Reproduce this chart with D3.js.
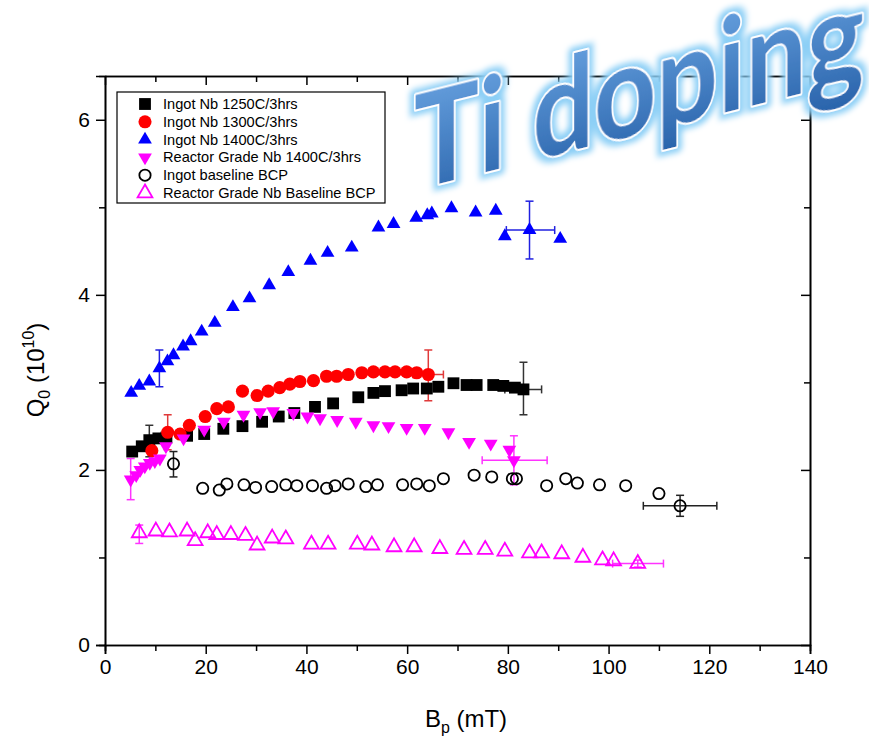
<!DOCTYPE html>
<html><head><meta charset="utf-8">
<script src="https://cdn.jsdelivr.net/npm/d3@7"></script>
<style>body{margin:0;background:#fff;} svg{display:block;}</style>
</head><body>
<svg id="c" width="869" height="742"></svg>
<script>
// ---- data (B_p in mT, Q0 in 1e10) ----
const seriesNames = ["Ingot Nb 1250C/3hrs","Ingot Nb 1300C/3hrs","Ingot Nb 1400C/3hrs","Reactor Grade Nb 1400C/3hrs","Ingot baseline BCP","Reactor Grade Nb Baseline BCP"];
const ingot1250 = [[5.4,2.21],[7.3,2.27],[8.8,2.34],[10.6,2.36],[12.2,2.37],[16.3,2.39],[19.7,2.41],[23.5,2.47],[27.3,2.50],[31.2,2.55],[34.5,2.61],[37.6,2.65],[41.7,2.72],[45.3,2.76],[50.3,2.83],[53.3,2.88],[55.6,2.90],[58.9,2.91],[61.2,2.93],[63.9,2.93],[66.2,2.95],[69.2,2.99],[71.8,2.97],[73.8,2.97],[77.1,2.97],[79.1,2.96],[81.4,2.94],[83.1,2.92]];
const ingot1300 = [[9.3,2.22],[12.45,2.43],[14.9,2.41],[16.75,2.51],[19.9,2.61],[22.2,2.70],[24.5,2.72],[27.3,2.90],[30.2,2.85],[32.4,2.90],[34.7,2.94],[36.7,2.98],[38.7,3.01],[41.4,3.02],[44.0,3.07],[46.0,3.07],[48.3,3.09],[51.0,3.11],[53.3,3.12],[55.6,3.12],[57.6,3.12],[59.9,3.12],[61.9,3.11],[64.2,3.09]];
const ingot1400 = [[5.2,2.88],[6.8,2.96],[8.8,3.01],[10.8,3.16],[12.4,3.24],[13.6,3.31],[15.5,3.41],[17.0,3.47],[19.2,3.58],[21.8,3.68],[25.4,3.86],[28.7,3.96],[32.6,4.11],[36.4,4.26],[40.8,4.39],[44.2,4.48],[49.0,4.54],[54.3,4.77],[57.3,4.81],[61.8,4.88],[64.0,4.91],[64.9,4.93],[68.8,4.99],[73.6,4.94],[77.6,4.96],[79.4,4.67],[84.3,4.74],[90.4,4.64]];
const reactor1400 = [[5.1,1.89],[6.2,1.94],[7.0,2.00],[7.9,2.04],[8.9,2.08],[9.9,2.10],[10.9,2.13],[12.1,2.27],[15.6,2.36],[19.7,2.46],[23.6,2.55],[27.5,2.63],[30.8,2.66],[33.4,2.67],[37.4,2.65],[40.2,2.61],[42.7,2.59],[46.1,2.57],[49.8,2.55],[53.3,2.51],[56.3,2.50],[59.9,2.48],[63.5,2.48],[68.2,2.43],[72.3,2.32],[76.6,2.30],[80.3,2.23],[81.2,2.11]];
const ingotBCP = [[13.6,2.07],[19.4,1.79],[22.7,1.77],[24.2,1.84],[27.6,1.83],[29.9,1.80],[33.1,1.81],[35.9,1.83],[38.1,1.82],[41.2,1.82],[44.0,1.79],[45.7,1.82],[48.3,1.84],[51.8,1.81],[54.1,1.83],[59.1,1.83],[61.9,1.84],[64.4,1.82],[67.2,1.90],[73.3,1.94],[76.8,1.92],[80.9,1.90],[81.7,1.90],[87.7,1.82],[91.5,1.90],[93.8,1.85],[98.2,1.83],[103.4,1.82],[110.0,1.73],[114.2,1.59]];
const reactorBCP = [[6.8,1.28],[10.1,1.30],[12.8,1.29],[16.3,1.30],[17.9,1.19],[20.4,1.28],[22.2,1.26],[25.0,1.26],[27.9,1.25],[30.2,1.14],[33.2,1.22],[35.9,1.21],[41.0,1.15],[44.3,1.15],[50.1,1.15],[53.0,1.14],[57.4,1.12],[61.4,1.12],[66.5,1.10],[71.3,1.09],[75.5,1.09],[79.4,1.07],[84.3,1.05],[86.7,1.05],[90.7,1.04],[94.9,1.00],[98.8,0.97],[101.0,0.96],[105.8,0.93]];
// error bars: [series index, x, y, yLo, yHi, xLo, xHi]
const errorBars = [
  [0, 8.8, 2.34, 2.15, 2.51, null, null],
  [0, 83.1, 2.92, 2.63, 3.23, 79.4, 86.7],
  [1, 12.45, 2.43, 2.23, 2.63, null, null],
  [1, 64.2, 3.09, 2.79, 3.37, 61.2, 67.2],
  [2, 10.8, 3.16, 2.95, 3.37, null, null],
  [2, 84.3, 4.74, 4.41, 5.07, 79.7, 89.3],
  [3, 5.1, 1.89, 1.66, 2.13, null, null],
  [3, 81.2, 2.11, 1.83, 2.39, 74.9, 87.8],
  [4, 13.6, 2.07, 1.92, 2.21, null, null],
  [4, 114.2, 1.59, 1.47, 1.71, 106.9, 121.5],
  [5, 6.8, 1.28, 1.16, 1.37, null, null],
  [5, 105.8, 0.93, 0.89, 0.97, 100.8, 110.9]
];
const xTicks = [0,20,40,60,80,100,120,140];
const xMinor = [10,30,50,70,90,110,130];
const yTicks = [0,2,4,6];
const yMinor = [1,3,5];
const title = "Ti doping";

// ---- styling ----
const allData = [ingot1250, ingot1300, ingot1400, reactor1400, ingotBCP, reactorBCP];
const styles = [
  {type:d3.symbolSquare, size:140, fill:"#000", stroke:"none", rot:0, err:"#333"},
  {type:d3.symbolCircle, size:135, fill:"#ff0000", stroke:"none", rot:0, err:"#e03a3a"},
  {type:d3.symbolTriangle, size:82, fill:"#0000ff", stroke:"none", rot:0, err:"#2020e0"},
  {type:d3.symbolTriangle, size:82, fill:"#ff00ff", stroke:"none", rot:180, err:"#ff33ff"},
  {type:d3.symbolCircle, size:100, fill:"none", stroke:"#000", rot:0, err:"#222"},
  {type:d3.symbolTriangle, size:95, fill:"none", stroke:"#ff00ff", rot:0, err:"#ff33ff"}
];

const svg = d3.select("#c");
const M = {l:105, r:810, t:76, b:645};
const x = d3.scaleLinear().domain([0,140]).range([M.l, M.r]);
const y = d3.scaleLinear().domain([0,6.5]).range([M.b, M.t]);

// defs for title
const defs = svg.append("defs");
const grad = defs.append("linearGradient").attr("id","tg").attr("x1",0).attr("y1",0).attr("x2",0).attr("y2",1);
grad.append("stop").attr("offset","0%").attr("stop-color","#6fa9e6");
grad.append("stop").attr("offset","100%").attr("stop-color","#2862aa");
const f = defs.append("filter").attr("id","glow").attr("x","-20%").attr("y","-30%").attr("width","140%").attr("height","160%");
f.append("feMorphology").attr("in","SourceAlpha").attr("operator","dilate").attr("radius",4).attr("result","d");
f.append("feGaussianBlur").attr("in","d").attr("stdDeviation",3).attr("result","b");
f.append("feFlood").attr("flood-color","#8ccff6").attr("result","fc");
f.append("feComposite").attr("in","fc").attr("in2","b").attr("operator","in").attr("result","g");
const fm = f.append("feMerge");
fm.append("feMergeNode").attr("in","g");
fm.append("feMergeNode").attr("in","SourceGraphic");

const font = "'Liberation Sans', Arial, sans-serif";

// axes
function styleAxis(g){
  g.select(".domain").attr("stroke","#000").attr("stroke-width",1.6);
  g.selectAll(".tick line").attr("stroke","#000").attr("stroke-width",1.5);
  g.selectAll(".tick text").attr("font-family",font).attr("font-size",21).attr("fill","#000");
}
svg.append("g").attr("transform",`translate(0,${M.b})`)
  .call(d3.axisBottom(x).tickValues(xMinor).tickSize(6).tickFormat("")).call(styleAxis);
svg.append("g").attr("transform",`translate(0,${M.b})`)
  .call(d3.axisBottom(x).tickValues(xTicks).tickSize(9).tickPadding(5).tickFormat(d3.format("d"))).call(styleAxis);
svg.append("g").attr("transform",`translate(${M.l},0)`)
  .call(d3.axisLeft(y).tickValues(yMinor).tickSize(6).tickFormat("")).call(styleAxis);
svg.append("g").attr("transform",`translate(${M.l},0)`)
  .call(d3.axisLeft(y).tickValues(yTicks).tickSize(9).tickPadding(6).tickFormat(d3.format("d"))).call(styleAxis);
svg.append("g").attr("transform",`translate(0,${M.t})`)
  .call(d3.axisTop(x).tickValues(xMinor).tickSizeInner(-6).tickSizeOuter(0).tickFormat("")).call(styleAxis);
svg.append("g").attr("transform",`translate(0,${M.t})`)
  .call(d3.axisTop(x).tickValues(xTicks).tickSizeInner(-9).tickSizeOuter(0).tickFormat("")).call(styleAxis);
svg.append("g").attr("transform",`translate(${M.r},0)`)
  .call(d3.axisRight(y).tickValues(yMinor).tickSizeInner(-6).tickSizeOuter(0).tickFormat("")).call(styleAxis);
svg.append("g").attr("transform",`translate(${M.r},0)`)
  .call(d3.axisRight(y).tickValues(yTicks).tickSizeInner(-9).tickSizeOuter(0).tickFormat("")).call(styleAxis);

// axis titles
const xl = svg.append("text").attr("x",466).attr("y",727).attr("text-anchor","middle")
  .attr("font-family",font).attr("font-size",24).attr("fill","#000");
xl.append("tspan").text("B");
xl.append("tspan").attr("font-size",16).attr("dy",6).text("p");
xl.append("tspan").attr("dy",-6).text(" (mT)");
const yl = svg.append("text").attr("transform","translate(44,370) rotate(-90)").attr("text-anchor","middle")
  .attr("font-family",font).attr("font-size",24).attr("fill","#000");
yl.append("tspan").text("Q");
yl.append("tspan").attr("font-size",16).attr("dy",6).text("0");
yl.append("tspan").attr("dy",-6).text(" (10");
yl.append("tspan").attr("font-size",16).attr("dy",-10).text("10");
yl.append("tspan").attr("dy",10).text(")");

// error bars
const eg = svg.append("g");
const cap = 4;
errorBars.forEach(e => {
  const [si, bx, qy, yLo, yHi, xLo, xHi] = e;
  const c = styles[si].err;
  const px = x(bx), py = y(qy);
  const seg = (x1,y1,x2,y2)=>eg.append("line").attr("x1",x1).attr("y1",y1).attr("x2",x2).attr("y2",y2)
    .attr("stroke",c).attr("stroke-width",1.5);
  if (yLo!=null){
    seg(px,y(yLo),px,y(yHi));
    seg(px-cap,y(yLo),px+cap,y(yLo));
    seg(px-cap,y(yHi),px+cap,y(yHi));
  }
  if (xLo!=null){
    seg(x(xLo),py,x(xHi),py);
    seg(x(xLo),py-cap,x(xLo),py+cap);
    seg(x(xHi),py-cap,x(xHi),py+cap);
  }
});

// points
allData.forEach((data,i)=>{
  const s = styles[i];
  const sym = d3.symbol().type(s.type).size(s.size);
  svg.append("g").selectAll("path").data(data).join("path")
    .attr("d", sym)
    .attr("transform", d=>`translate(${x(d[0])},${y(d[1])}) rotate(${s.rot})`)
    .attr("fill", s.fill)
    .attr("stroke", s.stroke)
    .attr("stroke-width", s.stroke==="none"?0:1.8);
});

// legend
const lg = svg.append("g");
lg.append("rect").attr("x",117).attr("y",92).attr("width",268).attr("height",111)
  .attr("fill","#fff").attr("stroke","#000").attr("stroke-width",1.2);
seriesNames.forEach((n,i)=>{
  const s = styles[i];
  const cy = 104 + i*17.8;
  lg.append("path").attr("d", d3.symbol().type(s.type).size(s.size)())
    .attr("transform",`translate(145,${cy}) rotate(${s.rot})`)
    .attr("fill",s.fill).attr("stroke",s.stroke).attr("stroke-width", s.stroke==="none"?0:1.8);
  lg.append("text").attr("x",163).attr("y",cy+5).attr("font-family",font).attr("font-size",14.6)
    .attr("fill","#000").text(n);
});

// title (WordArt-like: baseline slanted, verticals kept upright)
svg.append("text").attr("transform","translate(414,190) skewY(-14)")
  .attr("font-family","Lato, 'Open Sans', sans-serif").attr("font-weight",700)
  .attr("font-size",130).attr("textLength",450).attr("lengthAdjust","spacingAndGlyphs")
  .attr("fill","url(#tg)").attr("stroke","#ffffff").attr("stroke-width",4).attr("paint-order","stroke")
  .attr("stroke-linejoin","round").attr("filter","url(#glow)").text(title);
</script>
</body></html>
